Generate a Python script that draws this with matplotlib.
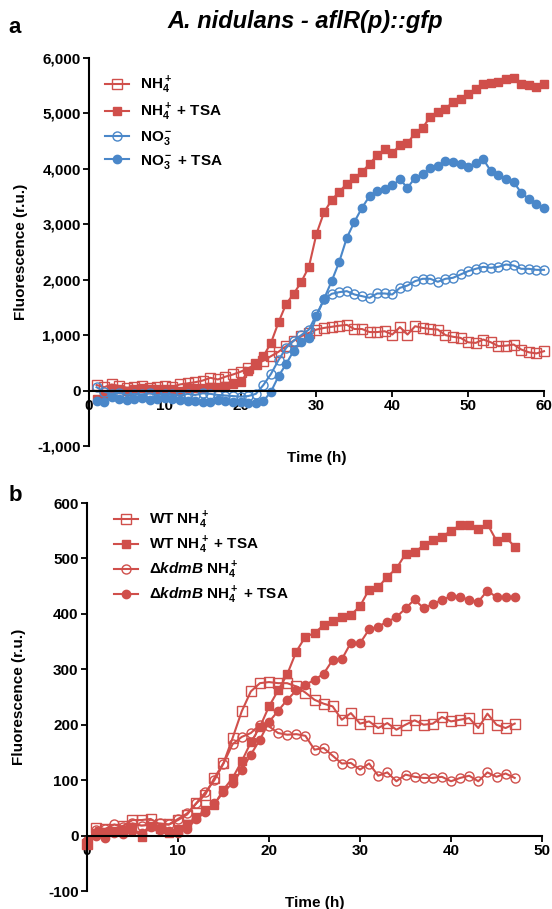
import numpy as np
import matplotlib
matplotlib.use("Agg")
import matplotlib.pyplot as plt
from matplotlib.ticker import FuncFormatter

plt.rcParams['font.family'] = ['Liberation Sans', 'DejaVu Sans']
plt.rcParams['font.weight'] = 'bold'
plt.rcParams['axes.unicode_minus'] = False
plt.rcParams['mathtext.fontset'] = 'custom'
plt.rcParams['mathtext.rm'] = 'Liberation Sans:bold'
plt.rcParams['mathtext.bf'] = 'Liberation Sans:bold'
plt.rcParams['mathtext.it'] = 'Liberation Sans:italic:bold'
plt.rcParams['mathtext.default'] = 'bf'

RED = '#D04F4B'
BLUE = '#4A87C9'

# ---- panel a: A. nidulans aflR(p)::gfp, hourly readings 1..60 h
time_a = np.arange(1, 61)
nh4 = [100, 60, 110, 80, 50, 60, 90, 50, 60, 80,
       70, 110, 130, 150, 180, 230, 200, 250, 290, 340,
       400, 470, 540, 620, 700, 800, 900, 980, 1040, 1100,
       1130, 1150, 1170, 1185, 1110, 1110, 1055, 1055, 1070, 1010,
       1145, 1010, 1160, 1130, 1110, 1100, 1000, 970, 950, 870,
       860, 920, 870, 800, 810, 830, 740, 690, 670, 710]
nh4_tsa = [-150, -70, 20, 30, 0, 30, 40, 20, 30, 20,
           30, 0, 40, 40, 50, 60, 70, 90, 110, 150,
           349, 481, 620, 860, 1233, 1564, 1745, 1962, 2232, 2828,
           3219, 3436, 3586, 3731, 3827, 3941, 4091, 4242, 4350, 4278,
           4434, 4458, 4651, 4741, 4940, 5030, 5084, 5205, 5265, 5355,
           5445, 5536, 5541, 5571, 5613, 5643, 5523, 5505, 5475, 5523]
no3 = [60, -20, -60, -40, -80, -60, -70, -50, -80, -60,
       -70, -90, -60, -80, -50, -60, -80, -90, -100, -110,
       -100, -60, 100, 300, 550, 770, 900, 1000, 1100, 1372,
       1643, 1745, 1775, 1793, 1733, 1703, 1673, 1751, 1751, 1733,
       1853, 1895, 1974, 2016, 2016, 1962, 2016, 2034, 2094, 2154,
       2196, 2232, 2214, 2232, 2274, 2256, 2196, 2196, 2178, 2178]
no3_tsa = [-180, -200, -120, -150, -170, -160, -130, -170, -150, -140,
           -160, -170, -190, -180, -200, -200, -170, -190, -200, -210,
           -230, -220, -190, -20, 260, 480, 720, 880, 950, 1342,
           1655, 1974, 2322, 2756, 3044, 3297, 3508, 3598, 3640, 3700,
           3809, 3658, 3839, 3899, 4019, 4049, 4139, 4121, 4091, 4037,
           4109, 4170, 3959, 3881, 3809, 3761, 3568, 3460, 3357, 3297]

# ---- panel b: WT vs kdmB deletion, hourly readings 0..47 h
time_b = np.arange(0, 48)
wt = [-15, 14, 12, 12, 18, 28, 28, 30, 20, 20,
      28, 38, 58, 74, 104, 131, 176, 224, 260, 275,
      277, 275, 275, 269, 258, 245, 238, 233, 209, 221,
      202, 206, 194, 203, 191, 200, 208, 200, 202, 214,
      206, 209, 212, 194, 220, 200, 194, 202]
wt_tsa = [-15, 5, 5, 8, 10, 15, -3, 18, 12, 5,
          10, 20, 33, 46, 56, 83, 104, 134, 168, 196,
          233, 262, 291, 332, 359, 365, 380, 388, 394, 398,
          414, 444, 448, 467, 482, 508, 511, 524, 533, 539,
          550, 560, 560, 553, 562, 532, 539, 521]
kdmb = [-10, 10, 12, 20, 15, 22, 18, 20, 22, 20,
        30, 40, 58, 78, 100, 130, 165, 178, 185, 200,
        197, 185, 182, 183, 180, 155, 158, 144, 130, 131,
        119, 130, 108, 114, 98, 110, 106, 104, 104, 106,
        98, 104, 108, 98, 114, 106, 112, 104]
kdmb_tsa = [-10, 0, -5, 5, 2, 8, 5, 15, 10, 8,
            5, 12, 30, 42, 58, 78, 95, 118, 146, 173,
            205, 225, 245, 262, 272, 281, 292, 317, 318, 348,
            347, 372, 377, 386, 394, 410, 426, 410, 418, 425,
            432, 431, 425, 422, 442, 430, 430, 431]

fig = plt.figure(figsize=(5.52, 9.09), dpi=100)
ax_a = fig.add_axes([0.1612, 0.5094, 0.8243, 0.4268])
ax_b = fig.add_axes([0.1576, 0.0198, 0.8243, 0.4268])


def style_axes(ax):
    for side in ('top', 'right'):
        ax.spines[side].set_visible(False)
    ax.spines['bottom'].set_position(('data', 0))
    ax.spines['left'].set_position(('data', 0))
    for side in ('bottom', 'left'):
        ax.spines[side].set_linewidth(1.5)
    ax.tick_params(direction='out', length=4, width=1.3, labelsize=11, pad=2)
    for lab in ax.get_xticklabels() + ax.get_yticklabels():
        lab.set_fontweight('bold')


def draw(ax, x, y, color, marker, filled, label):
    ax.plot(x, y, color=color, lw=1.5, marker=marker,
            ms=6 if filled else 6.5,
            mfc=color if filled else 'none', mec=color,
            mew=1.0, label=label, clip_on=False)


draw(ax_a, time_a, nh4, RED, 's', False, r'NH$_4^+$')
draw(ax_a, time_a, nh4_tsa, RED, 's', True, r'NH$_4^+$ + TSA')
draw(ax_a, time_a, no3, BLUE, 'o', False, r'NO$_3^-$')
draw(ax_a, time_a, no3_tsa, BLUE, 'o', True, r'NO$_3^-$ + TSA')

ax_a.set_xlim(0, 60)
ax_a.set_ylim(-1000, 6000)
ax_a.set_xticks(range(0, 61, 10))
ax_a.set_yticks(range(-1000, 6001, 1000))
ax_a.yaxis.set_major_formatter(FuncFormatter(lambda v, p: f'{v:,.0f}'))

draw(ax_b, time_b, wt, RED, 's', False, r'WT NH$_4^+$')
draw(ax_b, time_b, wt_tsa, RED, 's', True, r'WT NH$_4^+$ + TSA')
draw(ax_b, time_b, kdmb, RED, 'o', False, r'Δ$\mathit{kdmB}$ NH$_4^+$')
draw(ax_b, time_b, kdmb_tsa, RED, 'o', True, r'Δ$\mathit{kdmB}$ NH$_4^+$ + TSA')

ax_b.set_xlim(0, 50)
ax_b.set_ylim(-100, 600)
ax_b.set_xticks(range(0, 51, 10))
ax_b.set_yticks(range(-100, 601, 100))

legend_setup = ((ax_a, (0.035, 0.957), 0.38), (ax_b, (0.059, 0.983), 0.25))
for ax, anchor, spacing in legend_setup:
    style_axes(ax)
    ax.text(0.5, -0.013, 'Time (h)', transform=ax.transAxes, ha='center',
            va='top', fontsize=11, fontweight='bold')
    ax.set_ylabel('Fluorescence (r.u.)', fontsize=11, fontweight='bold')
    ax.yaxis.set_label_coords(-0.135, 0.5)
    leg = ax.legend(loc='upper left', bbox_to_anchor=anchor, frameon=False,
                    fontsize=11, handlelength=1.6, handletextpad=0.7,
                    labelspacing=spacing, borderpad=0, borderaxespad=0)
    for t in leg.get_texts():
        t.set_fontweight('bold')

fig.text(0.5525, 0.976, 'A. nidulans - aflR(p)::gfp', ha='center', va='center',
         fontsize=17, fontweight='bold', fontstyle='italic')
fig.text(0.027, 0.970, 'a', ha='center', va='center', fontsize=16, fontweight='bold')
fig.text(0.027, 0.455, 'b', ha='center', va='center', fontsize=16, fontweight='bold')

fig.savefig('out.png', dpi=100)
